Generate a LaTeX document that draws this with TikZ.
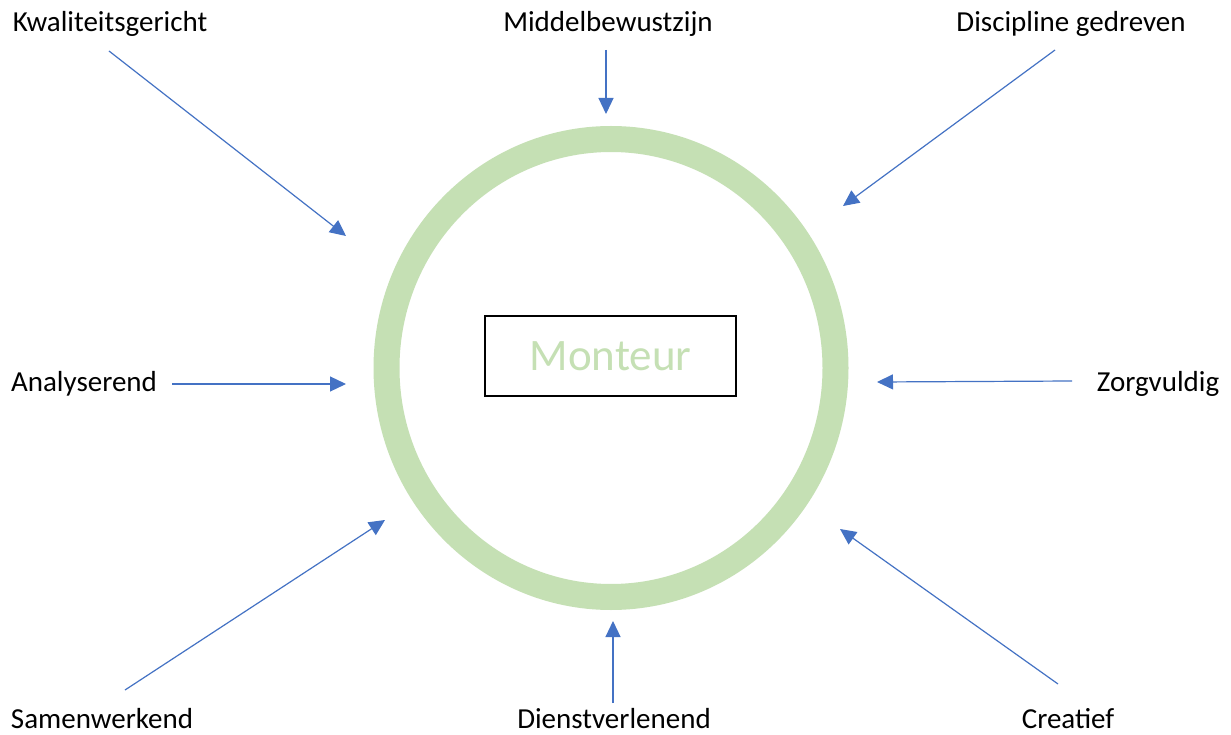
\documentclass[tikz,border=0pt]{standalone}
\usepackage{fontspec}
\setmainfont{Carlito}
\usetikzlibrary{arrows.meta,shapes.geometric}
\definecolor{ringgreen}{HTML}{C5E0B4}
\definecolor{arrowblue}{HTML}{4472C4}
\tikzset{
  lbl/.style={inner sep=0pt, font=\fontsize{29}{34}\selectfont, text=black},
  conn/.style={draw=arrowblue, line width=1.2pt, -{Triangle[length=16pt,width=15pt]}, arrowblue},
}
\begin{document}
\begin{tikzpicture}[x=1pt,y=-1pt]
\useasboundingbox (0,0) rectangle (1231,735);
\fill[white] (0,0) rectangle (1231,735);
% ring
\node (ring) [draw=ringgreen, ellipse, line width=26pt, minimum width=449pt, minimum height=458pt, inner sep=0pt] at (611,368) {};
% central box
\node (box) [draw=black, line width=1.5pt, minimum width=251pt, minimum height=80pt, inner sep=0pt,
  font=\fontsize{45}{50}\selectfont, text=ringgreen] at (610.5,356) {Monteur};
% labels
\node (kw) [lbl] at (110,24) {Kwaliteitsgericht};
\node (mb) [lbl] at (608,24) {Middelbewustzijn};
\node (dg) [lbl] at (1071,24) {Discipline gedreven};
\node (an) [lbl] at (84,384) {Analyserend};
\node (zv) [lbl] at (1158,384) {Zorgvuldig};
\node (sw) [lbl] at (102,719) {Samenwerkend};
\node (dv) [lbl] at (614,719) {Dienstverlenend};
\node (cr) [lbl] at (1068,719) {Creatief};
% connector end points
\coordinate (kwS) at (109,51);   \coordinate (kwE) at (346,236);
\coordinate (mbS) at (606,50);   \coordinate (mbE) at (606,114);
\coordinate (dgS) at (1055,50);  \coordinate (dgE) at (843,206);
\coordinate (anS) at (172,384);  \coordinate (anE) at (346,384);
\coordinate (zvS) at (1072,381); \coordinate (zvE) at (877,382);
\coordinate (swS) at (125,690);  \coordinate (swE) at (385,520);
\coordinate (dvS) at (613,703);  \coordinate (dvE) at (613,621);
\coordinate (crS) at (1058,684); \coordinate (crE) at (840,529);
% connectors
\draw[conn] (kwS) -- (kwE);
\draw[conn] (mbS) -- (mbE);
\draw[conn] (dgS) -- (dgE);
\draw[conn] (anS) -- (anE);
\draw[conn] (zvS) -- (zvE);
\draw[conn] (swS) -- (swE);
\draw[conn] (dvS) -- (dvE);
\draw[conn] (crS) -- (crE);
\end{tikzpicture}
\end{document}
